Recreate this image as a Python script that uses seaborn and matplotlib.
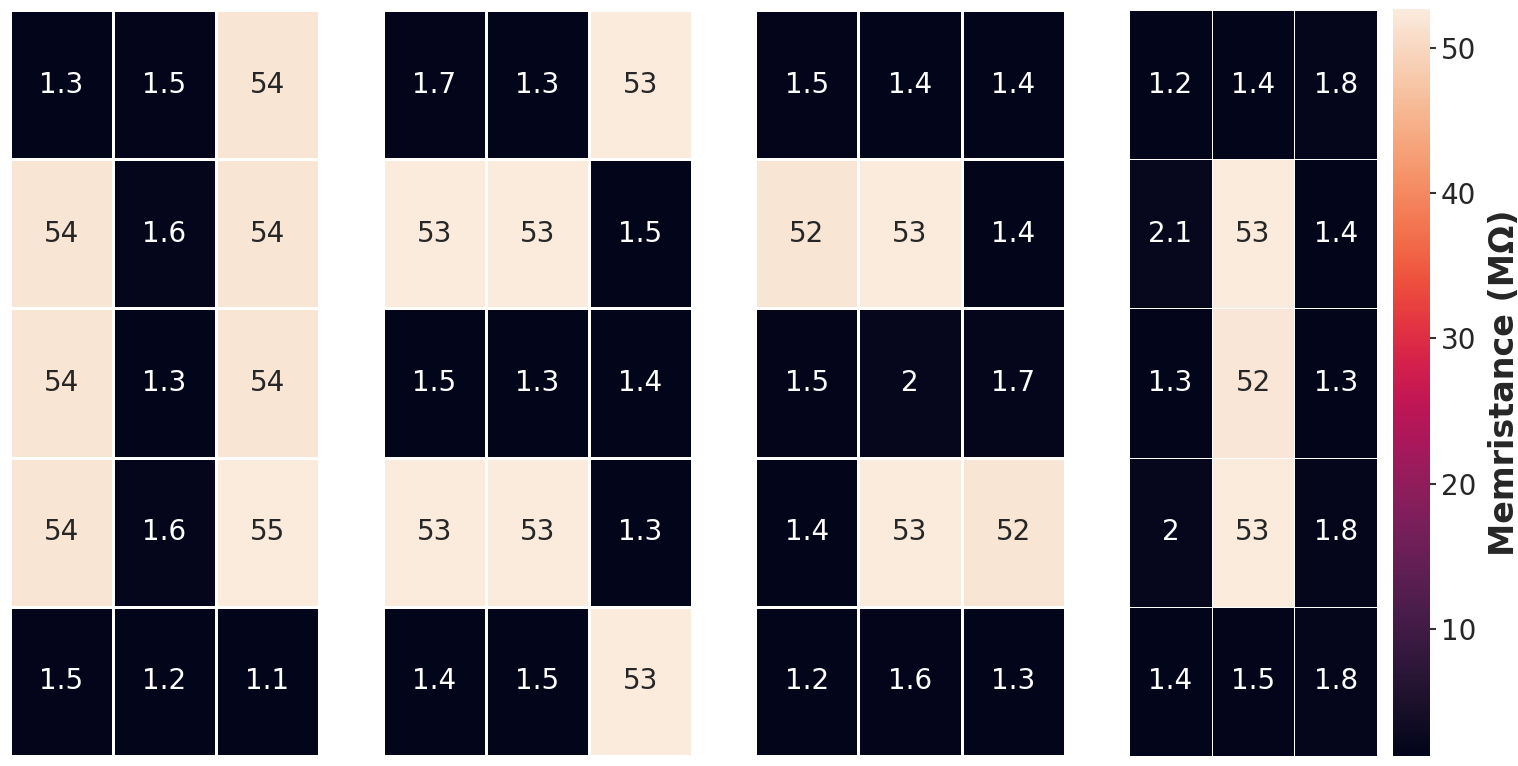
import matplotlib
matplotlib.use("Agg")
import matplotlib.pyplot as plt
import seaborn as sns
import numpy as np

sns.set_theme(style="white")

# Memristance (MΩ) of each 5x3 crossbar, one array per panel
griglia_1 = [[1.3, 1.5, 54], [54, 1.6, 54], [54, 1.3, 54], [54, 1.6, 55], [1.5, 1.2, 1.1]]
griglia_2 = [[1.7, 1.3, 53], [53, 53, 1.5], [1.5, 1.3, 1.4], [53, 53, 1.3], [1.4, 1.5, 53]]
griglia_3 = [[1.5, 1.4, 1.4], [52, 53, 1.4], [1.5, 2, 1.7], [1.4, 53, 52], [1.2, 1.6, 1.3]]
griglia_4 = [[1.23, 1.4, 1.8], [2.1, 52.7, 1.4], [1.3, 52, 1.3], [2, 52.7, 1.8], [1.4, 1.5, 1.8]]

W, H = 1518, 766
fig = plt.figure(figsize=(W / 100, H / 100), dpi=100)


def box(x0, x1, y0, y1):
    return [x0 / W, (H - y1) / H, (x1 - x0) / W, (y1 - y0) / H]


posizioni = [(10, 319), (383, 692), (755, 1065), (1129, 1377)]
griglie = [griglia_1, griglia_2, griglia_3, griglia_4]
cax = fig.add_axes(box(1393, 1430, 9, 756))

for i, (g, (x0, x1)) in enumerate(zip(griglie, posizioni)):
    ax = fig.add_axes(box(x0, x1, 10, 756))
    ultimo = i == len(griglie) - 1
    sns.heatmap(np.array(g), ax=ax, annot=True, annot_kws={"size": 20},
                linewidths=0.5 if ultimo else 1.0, linecolor="white",
                xticklabels=False, yticklabels=False,
                cbar=ultimo, cbar_ax=cax if ultimo else None)

cax.tick_params(labelsize=20, length=4, width=1.5, pad=4, color="#333333", labelcolor="#262626")
cax.set_ylabel("Memristance (MΩ)", fontsize=24, fontweight="bold", color="#262626", labelpad=8)

fig.savefig("out.png", dpi=100)
